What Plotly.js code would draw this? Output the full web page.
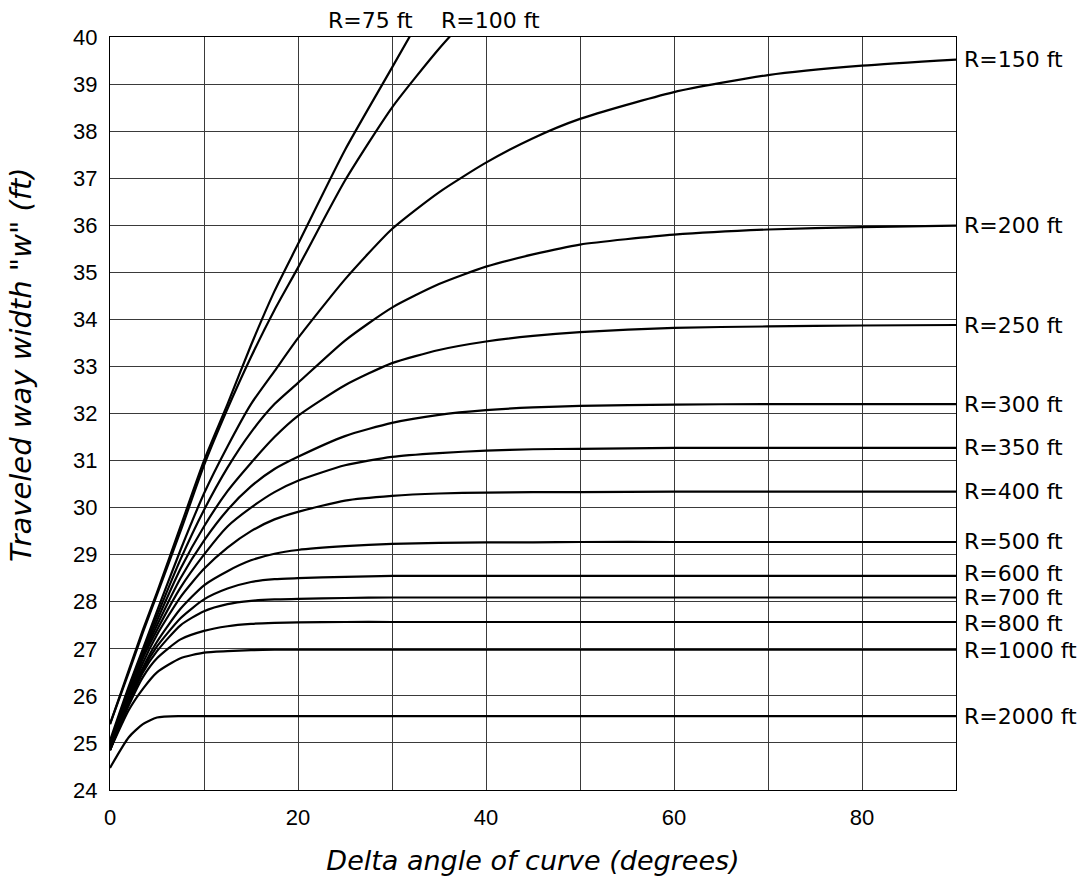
<!DOCTYPE html>
<html>
<head>
<meta charset="utf-8">
<script src="https://cdn.plot.ly/plotly-3.0.1.min.js"></script>
<style>
  html, body { margin: 0; padding: 0; background: #fff; }
  #chart { width: 1084px; height: 884px; }
</style>
</head>
<body>
<div id="chart"></div>
<script>
// Delta angle of curve (degrees)
const angles = [0, 2, 3.5, 5, 7.5, 10, 12.5, 15, 17.5, 20, 25, 30, 35, 40, 45, 50, 60, 70, 80, 90];

// Traveled way width "w" (ft) for each curve radius
const R75   = [25.4, 26.55, 27.4, 28.2, 29.6, 31.0, 32.2, 33.45, 34.6, 35.6, 37.6, 39.35, 41.1, null, null, null, null, null, null, null];
const R100  = [25.4, 26.5, 27.35, 28.15, 29.5, 30.9, 32.1, 33.2, 34.2, 35.1, 36.95, 38.5, 39.75, 40.85, null, null, null, null, null, null];
const R150  = [25.05, 26.2, 27.0, 27.8, 29.1, 30.3, 31.3, 32.2, 32.9, 33.6, 34.85, 35.92, 36.7, 37.33, 37.85, 38.26, 38.83, 39.19, 39.39, 39.52];
const R200  = [25.0, 26.15, 26.95, 27.7, 28.9, 29.95, 30.85, 31.6, 32.2, 32.65, 33.55, 34.25, 34.75, 35.12, 35.38, 35.59, 35.8, 35.91, 35.96, 35.99];
const R250  = [24.95, 26.1, 26.9, 27.6, 28.7, 29.6, 30.35, 30.95, 31.5, 31.95, 32.6, 33.07, 33.35, 33.53, 33.65, 33.73, 33.82, 33.85, 33.87, 33.88];
const R300  = [24.9, 26.05, 26.85, 27.5, 28.5, 29.3, 29.95, 30.45, 30.82, 31.08, 31.52, 31.8, 31.97, 32.07, 32.13, 32.16, 32.19, 32.2, 32.2, 32.2];
const R350  = [24.9, 26.0, 26.8, 27.4, 28.3, 29.0, 29.6, 30.0, 30.33, 30.57, 30.9, 31.08, 31.16, 31.21, 31.24, 31.25, 31.27, 31.27, 31.27, 31.27];
const R400  = [24.85, 25.95, 26.7, 27.3, 28.1, 28.7, 29.15, 29.5, 29.75, 29.91, 30.15, 30.25, 30.3, 30.32, 30.33, 30.33, 30.34, 30.34, 30.34, 30.34];
const R500  = [24.85, 25.9, 26.6, 27.15, 27.85, 28.35, 28.65, 28.88, 29.02, 29.1, 29.18, 29.23, 29.25, 29.26, 29.26, 29.27, 29.27, 29.27, 29.27, 29.27];
const R600  = [24.85, 25.85, 26.55, 27.05, 27.65, 28.05, 28.28, 28.42, 28.48, 28.5, 28.53, 28.55, 28.55, 28.55, 28.55, 28.55, 28.55, 28.55, 28.55, 28.55];
const R700  = [24.85, 25.85, 26.5, 26.95, 27.5, 27.8, 27.95, 28.02, 28.05, 28.06, 28.08, 28.09, 28.09, 28.09, 28.09, 28.09, 28.09, 28.09, 28.09, 28.09];
const R800  = [24.85, 25.8, 26.4, 26.8, 27.2, 27.38, 27.48, 27.53, 27.55, 27.56, 27.57, 27.57, 27.57, 27.57, 27.57, 27.57, 27.57, 27.57, 27.57, 27.57];
const R1000 = [24.85, 25.7, 26.15, 26.5, 26.8, 26.92, 26.95, 26.97, 26.98, 26.98, 26.98, 26.98, 26.98, 26.98, 26.98, 26.98, 26.98, 26.98, 26.98, 26.98];
const R2000 = [24.47, 25.12, 25.4, 25.54, 25.57, 25.57, 25.57, 25.57, 25.57, 25.57, 25.57, 25.57, 25.57, 25.57, 25.57, 25.57, 25.57, 25.57, 25.57, 25.57];

const topLabels   = ["R=75 ft", "R=100 ft"];
const topLabelX   = [27.7, 40.5];
const sideLabels  = ["R=150 ft", "R=200 ft", "R=250 ft", "R=300 ft", "R=350 ft", "R=400 ft", "R=500 ft", "R=600 ft", "R=700 ft", "R=800 ft", "R=1000 ft", "R=2000 ft"];
const sideSeries  = [R150, R200, R250, R300, R350, R400, R500, R600, R700, R800, R1000, R2000];
const sideNudge   = [0, 0, 0, 0, 0, 0, 0, 2, 0, -2, -1, 0];   // small pixel nudges for crowded labels

const xTickVals = [0, 10, 20, 30, 40, 50, 60, 70, 80, 90];
const xTickText = ["0", "", "20", "", "40", "", "60", "", "80", ""];
const yTickVals = [24, 25, 26, 27, 28, 29, 30, 31, 32, 33, 34, 35, 36, 37, 38, 39, 40];

const xTitle = "Delta angle of curve (degrees)";
const yTitle = 'Traveled way width "w" (ft)';

const allSeries = [R75, R100].concat(sideSeries);
const allNames = topLabels.concat(sideLabels);

const traces = allSeries.map((ys, i) => ({
  x: angles,
  y: ys,
  name: allNames[i],
  type: 'scatter',
  mode: 'lines',
  line: { color: '#000', width: 2.2, shape: 'spline', smoothing: 0.6 },
  connectgaps: false,
  hoverinfo: 'skip'
}));

const labelFont  = { family: 'DejaVu Sans, Verdana, sans-serif', size: 22, color: '#000' };
const titleFont  = { family: 'DejaVu Sans, Verdana, sans-serif', size: 27, color: '#000', style: 'italic' };
const yTitleFont = { family: 'DejaVu Sans, Verdana, sans-serif', size: 29, color: '#000', style: 'italic' };

const annotations = [];
topLabels.forEach((t, i) => {
  annotations.push({
    text: t, x: topLabelX[i], xref: 'x', y: 1, yref: 'paper',
    xanchor: 'center', yanchor: 'bottom', yshift: 2, showarrow: false,
    font: labelFont
  });
});
sideSeries.forEach((ys, i) => {
  annotations.push({
    text: sideLabels[i], x: angles[angles.length - 1], xref: 'x', y: ys[ys.length - 1], yref: 'y',
    xanchor: 'left', yanchor: 'middle', xshift: 7, yshift: sideNudge[i], showarrow: false,
    borderpad: 0,
    font: labelFont
  });
});
annotations.push({
  text: yTitle, textangle: -90, xref: 'paper', x: -0.106, yref: 'paper', y: 0.565,
  xanchor: 'center', yanchor: 'middle', showarrow: false, font: yTitleFont
});

const layout = {
  width: 1084, height: 884,
  margin: { l: 110, r: 128, t: 37, b: 94 },
  paper_bgcolor: '#fff', plot_bgcolor: '#fff',
  showlegend: false,
  font: { family: 'Liberation Sans, Arial, sans-serif', color: '#000', size: 21 },
  xaxis: {
    range: [0, 90], tickvals: xTickVals, ticktext: xTickText,
    showgrid: true, gridcolor: '#3a3a3a', gridwidth: 1,
    zeroline: false, showline: true, linecolor: '#000', linewidth: 1, mirror: true,
    ticks: '', ticklabelstandoff: 8,
    tickfont: { size: 22 },
    title: { text: xTitle, font: titleFont, standoff: 21 }
  },
  yaxis: {
    range: [24, 40], tickvals: yTickVals,
    showgrid: true, gridcolor: '#3a3a3a', gridwidth: 1,
    zeroline: false, showline: true, linecolor: '#000', linewidth: 1, mirror: true,
    ticks: '', ticklabelstandoff: 7,
    tickfont: { size: 22 }
  },
  annotations: annotations
};

Plotly.newPlot('chart', traces, layout, { staticPlot: true, displayModeBar: false });
</script>
</body>
</html>
